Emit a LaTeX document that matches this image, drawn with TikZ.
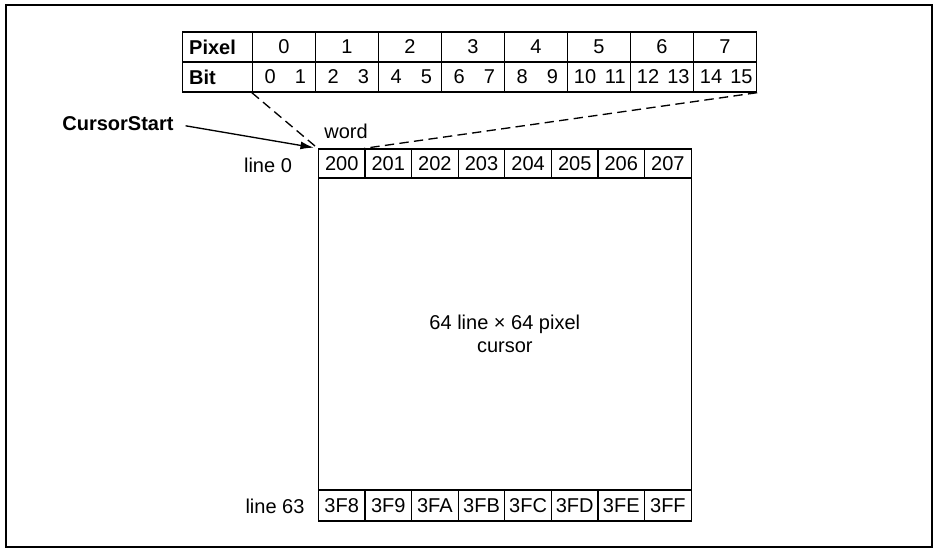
\documentclass[tikz,border=0pt]{standalone}
\usepackage{fontspec}
\setmainfont{Liberation Sans}
\usetikzlibrary{arrows.meta}

\tikzset{every picture/.style={line width=0.75pt}}
\tikzset{
  txt/.style={inner sep=0.75pt, font=\fontsize{15}{18}\selectfont},
  bittab/.style={draw, line width=1pt, inner sep=0pt, minimum width=47.25pt, minimum height=22.5pt, font=\fontsize{15}{18}\selectfont},
  wordcell/.style={draw, line width=1pt, inner sep=0pt, minimum width=34.95pt, font=\fontsize{15}{18}\selectfont},
  leader/.style={line width=1pt, dash pattern=on 7pt off 4pt},
}

\begin{document}
\begin{tikzpicture}[x=0.75pt,y=0.75pt,yscale=-1,xscale=1]
\useasboundingbox (0,0) rectangle (937,549);

%Shape: Rectangle (frame)
\draw [line width=1.2pt] (6,5) rectangle (932,547) ;

%Shape: Table (pixel / bit)
\node [bittab, minimum width=52.5pt, text width=42.5pt, inner xsep=5pt, align=left, font=\fontsize{15}{18}\selectfont\bfseries] (pixlbl) at (217.5,47) {Pixel};
\node [bittab, minimum width=52.5pt, text width=42.5pt, inner xsep=5pt, align=left, font=\fontsize{15}{18}\selectfont\bfseries] (bitlbl) at (217.5,77) {Bit};
\foreach \i/\lo/\hi in {0/0/1,1/2/3,2/4/5,3/6/7,4/8/9,5/10/11,6/12/13,7/14/15} {
  \node [bittab] (px\i) at ({284+63*\i},47) {\i};
  \node [bittab] (bt\i) at ({284+63*\i},77) {};
  \node [txt] (lo\i) at ([xshift=13.7pt]bt\i.west) {\lo};
  \node [txt] (hi\i) at ([xshift=36.4pt]bt\i.west) {\hi};
}

%Shape: Cursor words
\foreach \i/\top/\bot in {0/200/3F8,1/201/3F9,2/202/3FA,3/203/3FB,4/204/3FC,5/205/3FD,6/206/3FE,7/207/3FF} {
  \node [wordcell, minimum height=21.75pt] (w\i) at ({341.7+46.6*\i},163.5) {\top};
  \node [wordcell, minimum height=23.25pt] (e\i) at ({341.7+46.6*\i},505.5) {\bot};
}
%Shape: Rectangle (cursor body)
\node [draw, line width=1pt, minimum width=279.6pt, minimum height=234pt, inner sep=0pt, align=center, font=\fontsize{15}{17.5}\selectfont] (body) at (504.8,334) {64 line × 64 pixel\\cursor};

% Text Node
\node [txt] (line0) at (268,165) {line 0};
% Text Node
\node [txt] (line63) at (275,506) {line 63};
% Text Node
\node [txt] (word) at (346,131) {word};
% Text Node
\node [txt, font=\fontsize{15}{18}\selectfont\bfseries] (cs) at (118,124) {CursorStart};

%Straight Lines (pointer)
\draw [line width=1pt, -{Latex[length=10pt,width=6pt]}, shorten <=8pt, shorten >=3pt] (cs.east) -- (w0.north west) ;
%Straight Lines (dashed leaders)
\draw [leader] (bt0.south west) -- (w0.north west) ;
\draw [leader] (bt7.south east) -- (w1.north west) ;

\end{tikzpicture}
\end{document}
